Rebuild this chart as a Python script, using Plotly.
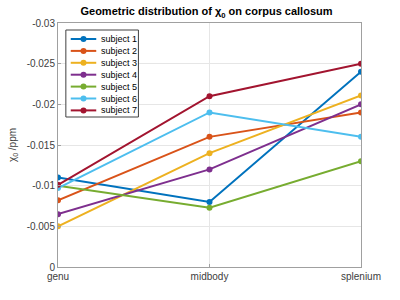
import plotly.graph_objects as go

regions = ["genu", "midbody", "splenium"]
subject_names = ["subject 1", "subject 2", "subject 3", "subject 4", "subject 5", "subject 6", "subject 7"]
s1 = [-0.0110, -0.0080, -0.0240]
s2 = [-0.0082, -0.0160, -0.0190]
s3 = [-0.0050, -0.0140, -0.0211]
s4 = [-0.0065, -0.0120, -0.0200]
s5 = [-0.0100, -0.0073, -0.0130]
s6 = [-0.0097, -0.0190, -0.0160]
s7 = [-0.0101, -0.0210, -0.0250]
series = [s1, s2, s3, s4, s5, s6, s7]
colors = ["#0072BD", "#D95319", "#EDB120", "#7E2F8E", "#77AC30", "#4DBEEE", "#A2142F"]
y_ticks = [0, -0.005, -0.01, -0.015, -0.02, -0.025, -0.03]
y_tick_labels = ["0", "-0.005", "-0.01", "-0.015", "-0.02", "-0.025", "-0.03"]

W, H = 400, 300
L, R, T, B = 52, 39, 23, 33
PW, PH = W - L - R, H - T - B


def px(xp):
    return (xp - L) / PW


def py(yp):
    return (H - B - yp) / PH


fig = go.Figure()
for name, vals, c in zip(subject_names, series, colors):
    fig.add_trace(go.Scatter(x=[0, 1, 2], y=vals, name=name, mode="lines+markers",
                             line=dict(color=c, width=2), marker=dict(color=c, size=6),
                             showlegend=False))

# legend drawn as a box in paper space
shapes = [dict(type="rect", xref="paper", yref="paper", x0=px(60), x1=px(134), y0=py(30), y1=py(117),
               line=dict(color="#404040", width=1), fillcolor="white", layer="above")]
annotations = []
for i, (name, c) in enumerate(zip(subject_names, colors)):
    yy = 39 + i * 11.9
    shapes.append(dict(type="line", xref="paper", yref="paper", x0=px(65), x1=px(91), y0=py(yy), y1=py(yy),
                       line=dict(color=c, width=2), layer="above"))
    shapes.append(dict(type="circle", xref="paper", yref="paper", xsizemode="pixel", ysizemode="pixel",
                       xanchor=px(78), yanchor=py(yy), x0=-3, x1=3, y0=-3, y1=3,
                       fillcolor=c, line=dict(color=c, width=0), layer="above"))
    annotations.append(dict(text=name, xref="paper", yref="paper", x=px(94), y=py(yy),
                            xanchor="left", yanchor="middle", showarrow=False,
                            font=dict(family="Liberation Sans, Arial", size=9, color="black")))

axis_common = dict(showline=True, linecolor="#a0a0a0", linewidth=1, mirror=True,
                   showgrid=True, gridcolor="#e6e6e6", gridwidth=1, zeroline=False,
                   ticks="inside", ticklen=3, tickcolor="#a0a0a0",
                   tickfont=dict(family="Liberation Sans, Arial", size=10, color="#404040"))

fig.update_layout(
    width=W, height=H,
    margin=dict(l=L, r=R, t=T, b=B),
    paper_bgcolor="white", plot_bgcolor="white",
    title=dict(text="<b>Geometric distribution of χ<sub>0</sub> on corpus callosum</b>",
               x=(L + W - R) / 2 / W, xanchor="center", y=0.975, yanchor="top",
               font=dict(family="Liberation Sans, Arial", size=11, color="black")),
    xaxis=dict(range=[0, 2], tickvals=[0, 1, 2], ticktext=regions, **axis_common),
    yaxis=dict(range=[0, -0.03], tickvals=y_ticks, ticktext=y_tick_labels,
               title=dict(text="χ<sub>0</sub> /ppm", standoff=8,
                          font=dict(family="Liberation Sans, Arial", size=10, color="#404040")),
               **axis_common),
    shapes=shapes,
    annotations=annotations,
    showlegend=False,
)

fig.write_html("out.html", config={"displayModeBar": False},
               post_script="document.body.style.margin='0';")
